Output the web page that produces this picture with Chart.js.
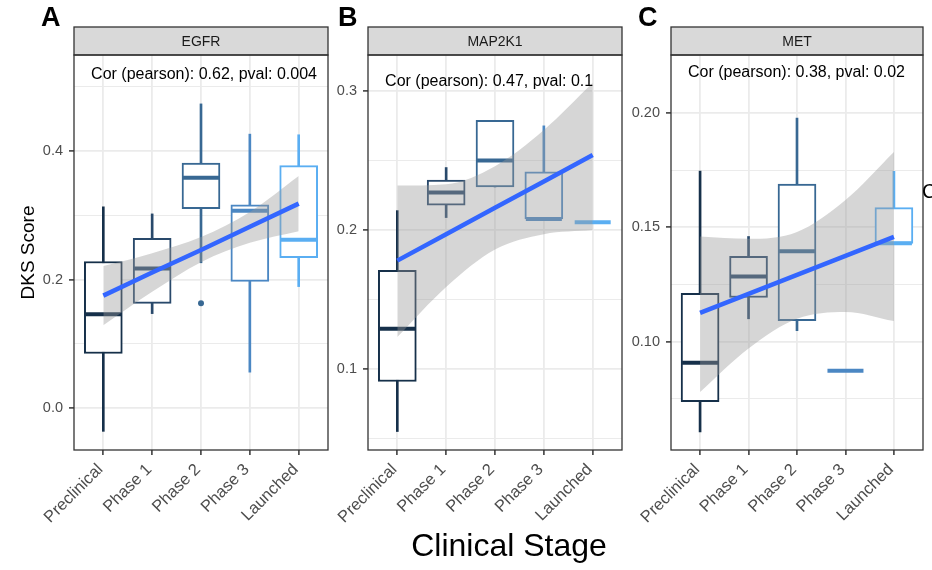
<!DOCTYPE html>
<html>
<head>
<meta charset="utf-8">
<title>DKS Score by Clinical Stage</title>
<script src="https://cdn.jsdelivr.net/npm/chart.js@4.4.1/dist/chart.umd.min.js"></script>
<style>
  html, body { margin: 0; padding: 0; background: #ffffff; }
  #wrap { position: relative; width: 932px; height: 570px; overflow: hidden; }
  #wrap canvas { position: absolute; left: 0; top: 0; }
</style>
</head>
<body>
<div id="wrap">
  <canvas id="egfrChart" width="932" height="570"></canvas>
  <canvas id="map2k1Chart" width="932" height="570"></canvas>
  <canvas id="metChart" width="932" height="570"></canvas>
</div>
<script>
const stages = ["Preclinical", "Phase 1", "Phase 2", "Phase 3", "Launched"];

// EGFR boxplot summaries
const egfrMin = [-0.036, 0.147, 0.226, 0.056, 0.189];
const egfrQ1 = [0.085, 0.163, 0.310, 0.197, 0.234];
const egfrMedian = [0.146, 0.217, 0.358, 0.307, 0.262];
const egfrQ3 = [0.228, 0.264, 0.381, 0.316, 0.377];
const egfrMax = [0.313, 0.302, 0.473, 0.426, 0.425];
const egfrOutliers = [[2, 0.163]];
const egfrFit = [0.175, 0.211, 0.246, 0.282, 0.318];
const egfrUpper = [0.221, 0.241, 0.266, 0.305, 0.361];
const egfrLower = [0.129, 0.181, 0.227, 0.257, 0.275];
const egfrTickLabels = ["0.0", "0.2", "0.4"];
const egfrMinorTicks = [0.1, 0.3, 0.5];

// MAP2K1
const mapMin = [0.055, 0.209, 0.231, 0.208, 0.2056];
const mapQ1 = [0.091, 0.218, 0.231, 0.208, 0.2056];
const mapMedian = [0.129, 0.227, 0.250, 0.208, 0.2056];
const mapQ3 = [0.171, 0.236, 0.279, 0.242, 0.2056];
const mapMax = [0.214, 0.245, 0.279, 0.275, 0.2056];
const mapOutliers = [];
const mapFit = [0.178, 0.197, 0.216, 0.235, 0.254];
const mapUpper = [0.232, 0.233, 0.246, 0.272, 0.306];
const mapLower = [0.123, 0.159, 0.186, 0.197, 0.200];
const mapTickLabels = ["0.1", "0.2", "0.3"];
const mapMinorTicks = [0.05, 0.15, 0.25];

// MET
const metMin = [0.0605, 0.110, 0.1048, 0.0873, 0.1430];
const metQ1 = [0.0737, 0.1193, 0.1092, 0.0873, 0.1430];
const metMedian = [0.0908, 0.1285, 0.1395, 0.0873, 0.1430];
const metQ3 = [0.1211, 0.1373, 0.1689, 0.0873, 0.1586];
const metMax = [0.1746, 0.146, 0.1978, 0.0873, 0.1745];
const metOutliers = [];
const metFit = [0.1126, 0.1209, 0.1292, 0.1375, 0.1458];
const metUpper = [0.146, 0.145, 0.148, 0.162, 0.183];
const metLower = [0.078, 0.097, 0.110, 0.113, 0.109];
const metTickLabels = ["0.10", "0.15", "0.20"];
const metMinorTicks = [0.075, 0.125, 0.175, 0.225];

const stageColors = ["#16304A", "#29496B", "#386893", "#4B87C3", "#5AAEF2"];
const FONT = "'Liberation Sans', Arial, Helvetica, sans-serif";

// strip, border, annotation and panel letter
const panelDecor = {
  id: "panelDecor",
  afterDatasetsDraw(chart, args, opts) {
    const { ctx, chartArea: area, scales } = chart;
    const w = area.right - area.left;
    ctx.save();
    ctx.fillStyle = "#D9D9D9";
    ctx.fillRect(area.left, opts.stripTop, w, area.top - opts.stripTop);
    ctx.strokeStyle = "#333333";
    ctx.lineWidth = 1.3;
    ctx.strokeRect(area.left, opts.stripTop, w, area.top - opts.stripTop);
    ctx.strokeRect(area.left, area.top, w, area.bottom - area.top);

    ctx.fillStyle = "#1A1A1A";
    ctx.font = "14px " + FONT;
    ctx.textAlign = "center";
    ctx.textBaseline = "middle";
    ctx.fillText(opts.gene, area.left + w / 2, (opts.stripTop + area.top) / 2 + 1);

    ctx.fillStyle = "#000000";
    ctx.font = "16px " + FONT;
    ctx.textAlign = "left";
    ctx.fillText(opts.note, scales.x.getPixelForValue(opts.noteX), scales.y.getPixelForValue(opts.noteY));

    ctx.font = "bold 27px " + FONT;
    ctx.textBaseline = "alphabetic";
    ctx.fillText(opts.letter, opts.letterX, 26);

    (opts.extra || []).forEach((t) => {
      ctx.font = t.size + "px " + FONT;
      ctx.textAlign = t.align;
      ctx.fillText(t.text, t.x, t.y);
    });
    ctx.restore();
  },
};

function buildPanel(id, p) {
  const pts = (vals) => vals.map((v, i) => ({ x: i + 1, y: v }));
  const ranges = (lo, hi) => lo.map((v, i) => ({ x: i + 1, y: [v, hi[i]] }));
  const majors = p.tickLabels.map(parseFloat);
  const allTicks = majors.concat(p.minorTicks).sort((a, b) => a - b);
  const majorIndex = (v) => majors.findIndex((m) => Math.abs(m - v) < 1e-9);
  const xAxisHeight = 85;

  return new Chart(document.getElementById(id).getContext("2d"), {
    type: "bar",
    data: {
      datasets: [
        {
          type: "line",
          data: pts(p.fit),
          borderColor: "#3366FF",
          borderWidth: 4.5,
          pointRadius: 0,
          order: 1,
        },
        {
          type: "line",
          data: pts(p.upper),
          borderColor: "rgba(0,0,0,0)",
          borderWidth: 0,
          pointRadius: 0,
          fill: false,
          cubicInterpolationMode: "monotone",
          order: 2,
        },
        {
          type: "line",
          data: pts(p.lower),
          borderColor: "rgba(0,0,0,0)",
          borderWidth: 0,
          pointRadius: 0,
          fill: "-1",
          backgroundColor: "rgba(153,153,153,0.4)",
          cubicInterpolationMode: "monotone",
          order: 2,
        },
        {
          type: "line",
          data: p.outliers.map(([i, v]) => ({ x: i + 1, y: v })),
          showLine: false,
          pointRadius: 3,
          pointBorderWidth: 0,
          pointBackgroundColor: p.outliers.map(([i]) => stageColors[i]),
          order: 3,
        },
        {
          type: "line",
          data: pts(p.median),
          showLine: false,
          pointStyle: "line",
          pointRadius: 18,
          pointBorderWidth: 4,
          pointBorderColor: stageColors,
          order: 4,
        },
        {
          type: "bar",
          data: ranges(p.q1, p.q3),
          backgroundColor: "#FFFFFF",
          borderColor: stageColors,
          borderWidth: 2,
          borderSkipped: false,
          barThickness: 38,
          grouped: false,
          order: 5,
        },
        {
          type: "bar",
          data: ranges(p.min, p.max),
          backgroundColor: stageColors,
          borderWidth: 0,
          barThickness: 2,
          grouped: false,
          order: 6,
        },
      ],
    },
    options: {
      responsive: false,
      animation: false,
      layout: {
        autoPadding: false,
        padding: {
          left: p.left - p.yAxisWidth,
          right: 932 - p.right,
          top: 55,
          bottom: 570 - 450 - xAxisHeight,
        },
      },
      plugins: {
        legend: { display: false },
        tooltip: { enabled: false },
        panelDecor: p.decor,
      },
      scales: {
        x: {
          type: "linear",
          min: 0.4,
          max: 5.6,
          offset: false,
          afterBuildTicks: (s) => {
            s.ticks = stages.map((_, i) => ({ value: i + 1 }));
          },
          afterFit: (s) => {
            s.height = xAxisHeight;
            s.paddingLeft = 0;
            s.paddingRight = 0;
          },
          ticks: {
            callback: (v) => stages[v - 1],
            autoSkip: false,
            maxRotation: 45,
            minRotation: 45,
            padding: 5,
            labelOffset: -3,
            color: "#4D4D4D",
            font: { family: FONT, size: 16.5 },
          },
          grid: {
            color: "#EBEBEB",
            lineWidth: 1.8,
            offset: false,
            tickColor: "#333333",
            tickLength: 5,
            tickWidth: 1.5,
          },
          border: { display: false },
        },
        y: {
          type: "linear",
          min: p.yMin,
          max: p.yMax,
          afterBuildTicks: (s) => {
            s.ticks = allTicks.map((v) => ({ value: v }));
          },
          afterFit: (s) => {
            s.width = p.yAxisWidth;
            s.paddingTop = 0;
            s.paddingBottom = 0;
          },
          ticks: {
            callback: (v) => {
              const k = majorIndex(v);
              return k >= 0 ? p.tickLabels[k] : "";
            },
            autoSkip: false,
            padding: 6,
            color: "#4D4D4D",
            font: { family: FONT, size: 14.5 },
          },
          grid: {
            color: "#EBEBEB",
            lineWidth: (c) => (c.tick && majorIndex(c.tick.value) >= 0 ? 1.8 : 1.1),
            tickColor: (c) => (c.tick && majorIndex(c.tick.value) >= 0 ? "#333333" : "rgba(0,0,0,0)"),
            tickLength: 5,
            tickWidth: 1.5,
          },
          border: { display: false },
          title: {
            display: p.yTitle,
            text: "DKS Score",
            color: "#000000",
            font: { family: FONT, size: 19, lineHeight: 1.2 },
            padding: { top: 17, bottom: 0 },
          },
        },
      },
    },
    plugins: [panelDecor],
  });
}

buildPanel("egfrChart", {
  min: egfrMin, q1: egfrQ1, median: egfrMedian, q3: egfrQ3, max: egfrMax,
  outliers: egfrOutliers, fit: egfrFit, upper: egfrUpper, lower: egfrLower,
  tickLabels: egfrTickLabels, minorTicks: egfrMinorTicks,
  yMin: -0.065, yMax: 0.549,
  left: 74, right: 328, yAxisWidth: 74, yTitle: true,
  decor: {
    gene: "EGFR", letter: "A", letterX: 41, stripTop: 27,
    note: "Cor (pearson): 0.62, pval: 0.004", noteX: 0.75, noteY: 0.519,
  },
});

buildPanel("map2k1Chart", {
  min: mapMin, q1: mapQ1, median: mapMedian, q3: mapQ3, max: mapMax,
  outliers: mapOutliers, fit: mapFit, upper: mapUpper, lower: mapLower,
  tickLabels: mapTickLabels, minorTicks: mapMinorTicks,
  yMin: 0.0417, yMax: 0.326,
  left: 368, right: 622, yAxisWidth: 40, yTitle: false,
  decor: {
    gene: "MAP2K1", letter: "B", letterX: 338, stripTop: 27,
    note: "Cor (pearson): 0.47, pval: 0.1", noteX: 0.75, noteY: 0.3065,
    extra: [{ text: "Clinical Stage", x: 509, y: 556, size: 32, align: "center" }],
  },
});

buildPanel("metChart", {
  min: metMin, q1: metQ1, median: metMedian, q3: metQ3, max: metMax,
  outliers: metOutliers, fit: metFit, upper: metUpper, lower: metLower,
  tickLabels: metTickLabels, minorTicks: metMinorTicks,
  yMin: 0.0526, yMax: 0.2254,
  left: 671, right: 923, yAxisWidth: 40, yTitle: false,
  decor: {
    gene: "MET", letter: "C", letterX: 638, stripTop: 27,
    note: "Cor (pearson): 0.38, pval: 0.02", noteX: 0.75, noteY: 0.2175,
    extra: [{ text: "C", x: 922, y: 198, size: 20, align: "left" }],
  },
});
</script>
</body>
</html>
